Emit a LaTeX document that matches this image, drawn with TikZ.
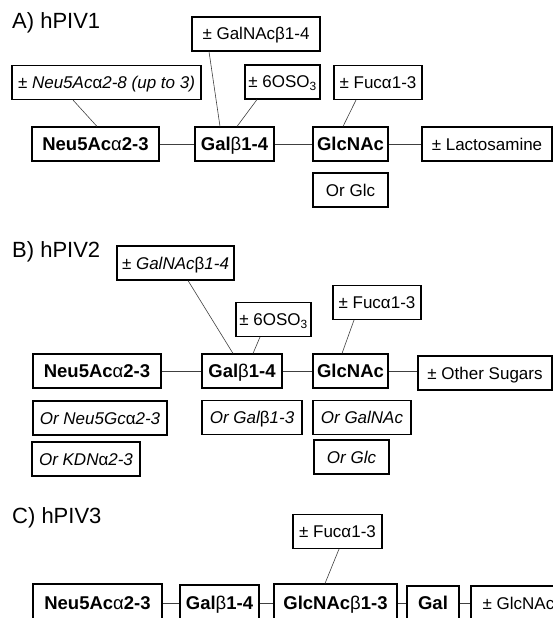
\documentclass[tikz,border=0pt]{standalone}
\usepackage{fontspec}
\setmainfont{Liberation Sans}
\newcommand\alphaup{{\normalfont α}}
\newcommand\betaup{{\normalfont β}}
\newcommand\plainsize{\fontsize{17}{20}\selectfont}
\newcommand\boldsize{\fontsize{18.5}{22}\selectfont\bfseries}

\begin{document}
\begin{tikzpicture}[x=1pt, y=-1pt,
    box/.style={draw, line width=1.1pt, minimum height=34pt, inner sep=0pt,
      text height=12pt, text depth=0pt, font=\plainsize},
    sugar/.style={box, text height=13pt, font=\boldsize},
    link/.style={black!75, line width=0.6pt},
    title/.style={anchor=base west, inner sep=0pt, font=\fontsize{22}{26}\selectfont}]
    \useasboundingbox (0,0) rectangle (553,618);
    % A) hPIV1
    \node[title] at(12,29)(tA){A) hPIV1};
    \node[box, minimum width=128pt] at(256,34)(galnacA){± GalNAc\betaup1-4};
    \node[box, minimum width=189pt] at(106.5,82.5)(sialA){± \textit{Neu5Ac\alphaup2-8 (up to 3)}};
    \node[box, minimum width=75pt] at(282.5,82)(osoA){± 6OSO\textsubscript{3}};
    \node[box, minimum width=88pt] at(378,82.5)(fucA){± Fuc\alphaup1-3};
    \node[sugar, minimum width=127pt] at(95.5,144)(neuA){Neu5Ac\alphaup2-3};
    \node[sugar, minimum width=79pt] at(234.5,144)(galA){Gal\betaup1-4};
    \node[sugar, minimum width=75pt] at(350.5,144)(glcA){GlcNAc};
    \node[box, minimum width=130pt] at(487,144)(lacA){± Lactosamine};
    \node[box, minimum width=75pt] at(350.5,190)(orglcA){Or Glc};
    \draw[link] (neuA) -- (galA) -- (glcA) -- (lacA);
    \draw[link] ([xshift=-33.5pt]sialA.south) -- ([xshift=1.5pt]neuA.north);
    \draw[link] ([xshift=-47pt]galnacA.south) -- ([xshift=-14.5pt]galA.north);
    \draw[link] ([xshift=-25.5pt]osoA.south) -- ([xshift=2.5pt]galA.north);
    \draw[link] ([xshift=-22pt]fucA.south) -- ([xshift=-7.5pt]glcA.north);
    % B) hPIV2
    \node[title] at(12,257)(tB){B) hPIV2};
    \node[box, minimum width=117pt] at(175.5,263)(galnacB){± \textit{GalNAc\betaup1-4}};
    \node[box, minimum width=75pt] at(273.5,319.5)(osoB){± 6OSO\textsubscript{3}};
    \node[box, minimum width=88pt] at(377,302.5)(fucB){± Fuc\alphaup1-3};
    \node[sugar, minimum width=128pt] at(97,371)(neuB){Neu5Ac\alphaup2-3};
    \node[sugar, minimum width=80pt] at(242,371)(galB){Gal\betaup1-4};
    \node[sugar, minimum width=75pt] at(350.5,371)(glcB){GlcNAc};
    \node[box, minimum width=134pt] at(485,373)(otherB){± Other Sugars};
    \node[box, minimum width=134pt] at(100,418)(neugcB){\textit{Or Neu5Gc\alphaup2-3}};
    \node[box, minimum width=100pt] at(252,417.5)(orgalB){\textit{Or Gal\betaup1-3}};
    \node[box, minimum width=98pt] at(362,417.5)(orgalnacB){\textit{Or GalNAc}};
    \node[box, minimum width=108pt] at(86,459)(kdnB){\textit{Or KDN\alphaup2-3}};
    \node[box, minimum width=75pt] at(351.5,457)(orglcB){\textit{Or Glc}};
    \draw[link] (neuB) -- (galB) -- (glcB) -- (glcB -| otherB.west);
    \draw[link] ([xshift=12.5pt]galnacB.south) -- ([xshift=-9pt]galB.north);
    \draw[link] ([xshift=-13.5pt]osoB.south) -- ([xshift=11pt]galB.north);
    \draw[link] ([xshift=-23pt]fucB.south) -- ([xshift=-8.5pt]glcB.north);
    % C) hPIV3
    \node[title] at(12,523)(tC){C) hPIV3};
    \node[box, minimum width=89pt] at(337.5,531.5)(fucC){± Fuc\alphaup1-3};
    \node[sugar, minimum width=129pt, minimum height=38pt] at(97.5,603)(neuC){Neu5Ac\alphaup2-3};
    \node[sugar, minimum width=79pt, minimum height=36pt] at(219.5,603)(galC){Gal\betaup1-4};
    \node[sugar, minimum width=123pt, minimum height=38pt] at(335.5,603)(glcC){GlcNAc\betaup1-3};
    \node[sugar, minimum width=52pt, minimum height=34pt] at(433,603)(gal2C){Gal};
    \node[box, minimum width=95pt, minimum height=34pt] at(518.5,603)(glcnacC){± GlcNAc};
    \draw[link] (neuC) -- (galC) -- (glcC) -- (gal2C) -- (glcnacC);
    \draw[link] ([xshift=1.5pt]fucC.south) -- ([xshift=-10.5pt]glcC.north);
\end{tikzpicture}
\end{document}
